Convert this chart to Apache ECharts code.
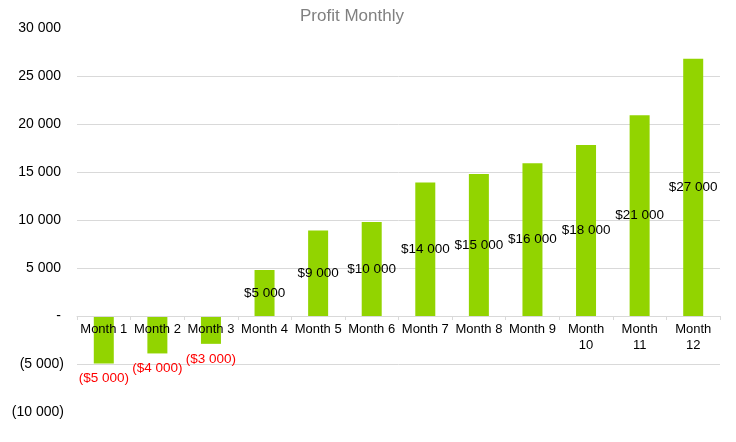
<!DOCTYPE html>
<html><head><meta charset="utf-8">
<script src="https://cdn.jsdelivr.net/npm/echarts@6/dist/echarts.min.js"></script>
<style>html,body{margin:0;padding:0;background:#fff}#c{width:736px;height:442px}</style>
</head><body><div id="c"></div>
<script>
const categories = ['Month 1','Month 2','Month 3','Month 4','Month 5','Month 6','Month 7','Month 8','Month 9','Month 10','Month 11','Month 12'];
const profit = [-4950, -3900, -2900, 4800, 8900, 9800, 13900, 14800, 15900, 17800, 20900, 26800];
const yTicks = {min: -10000, max: 30000, interval: 5000};

function fmtNum(v){
  return Math.abs(Math.round(v)).toString().replace(/\B(?=(\d{3})+(?!\d))/g, ' ');
}
function fmtMoney(v){
  const r = Math.round(v/1000)*1000;
  return r < 0 ? '($' + fmtNum(r) + ')' : '$' + fmtNum(r);
}
const gridTop = 28, gridBottom = 30, H = 442;
const plotH = H - gridTop - gridBottom;
const zeroOffset = plotH * (0 - yTicks.min) / (yTicks.max - yTicks.min);

const chart = echarts.init(document.getElementById('c'), null, {renderer:'canvas'});
chart.setOption({
  animation: false,
  title: {text: 'Profit Monthly', left: 295, top: 3,
    textStyle: {fontFamily: 'Liberation Sans', fontSize: 17, fontWeight: 'normal', color: '#808080'}},
  grid: {left: 77, right: 16, top: gridTop, bottom: gridBottom, containLabel: false},
  xAxis: {type: 'category', data: categories, z: 5, position: 'bottom', offset: -zeroOffset,
    axisLine: {onZero: false, lineStyle: {color: '#d9d9d9'}},
    axisTick: {show: true, length: 4, lineStyle: {color: '#d9d9d9'}},
    axisLabel: {color: '#000', fontFamily: 'Liberation Sans', fontSize: 13, margin: 5, interval: 0, lineHeight: 16,
      formatter: v => v.length > 7 ? v.replace(' ', '\n') : v}},
  yAxis: {type: 'value', min: yTicks.min, max: yTicks.max, interval: yTicks.interval,
    axisLine: {show: false}, axisTick: {show: false},
    splitLine: {show: true, showMinLine: false, showMaxLine: false, lineStyle: {color: '#d9d9d9'}},
    axisLabel: {color: '#000', fontFamily: 'Liberation Sans', fontSize: 14, margin: 13,
      rich: {p: {width: 3, fontSize: 14}},
      formatter: v => v === 0 ? '-{p| }' : (v < 0 ? '(' + fmtNum(v) + ')' : fmtNum(v) + '{p| }')}},
  series: [{type: 'bar', barWidth: 20,
    itemStyle: {color: '#92d400'},
    data: profit.map(v => v < 0 ? {value: v, label: {position: 'bottom', distance: 8, color: '#ff0000'}} : v),
    label: {show: true, position: 'inside', color: '#000', fontFamily: 'Liberation Sans', fontSize: 13.5,
      formatter: p => fmtMoney(p.value)}}]
});
</script></body></html>
